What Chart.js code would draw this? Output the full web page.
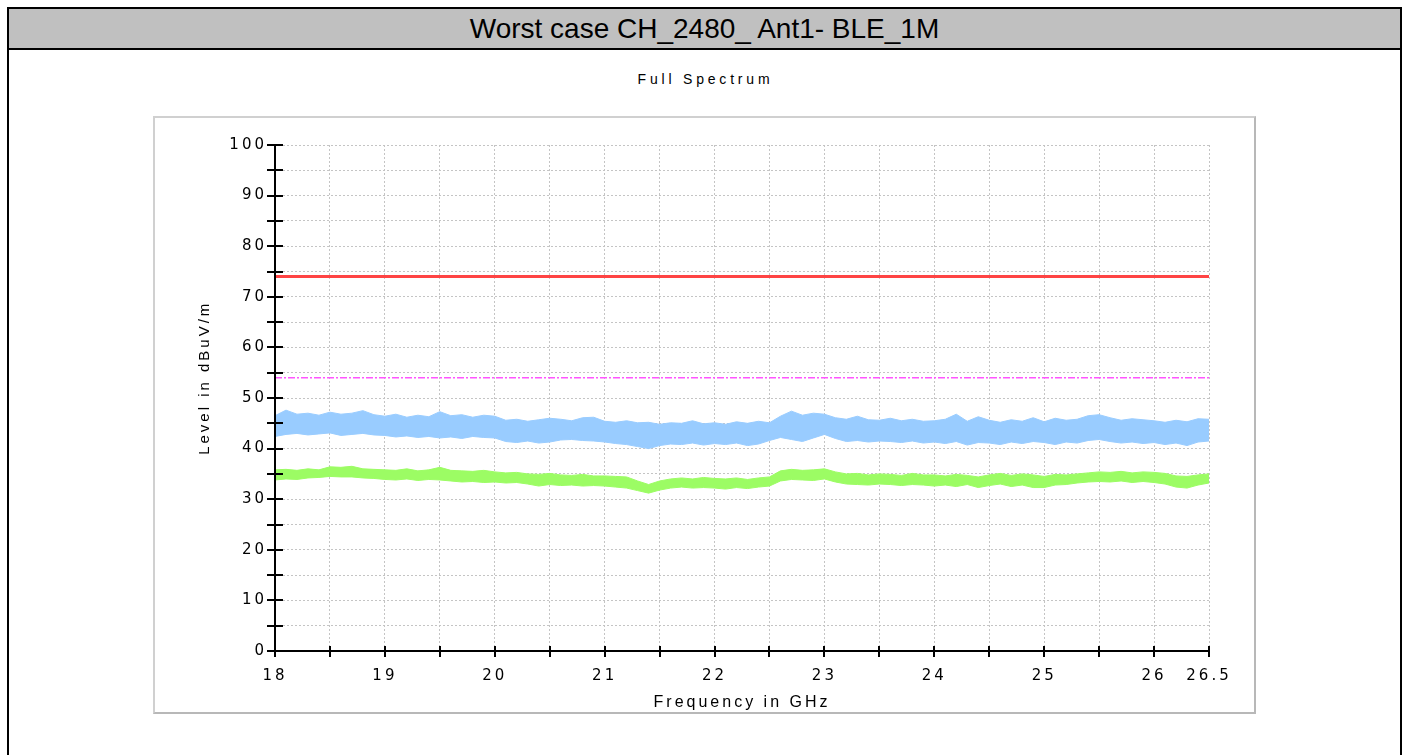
<!DOCTYPE html>
<html>
<head>
<meta charset="utf-8">
<script src="https://cdn.jsdelivr.net/npm/chart.js@4/dist/chart.umd.min.js"></script>
<style>
  html, body { margin: 0; padding: 0; background: #fff; }
  body { width: 1407px; height: 755px; overflow: hidden; position: relative; font-family: "Liberation Sans", Arial, sans-serif; }
  #frame { position: absolute; left: 7px; top: 7px; width: 1391px; height: 800px; border: 2px solid #000; }
  #head { height: 39px; background: #c0c0c0; border-bottom: 2px solid #000; text-align: center;
          font-size: 28px; line-height: 39px; color: #000; }
  #sub { position: absolute; left: 2px; width: 1407px; top: 71px; text-align: center; font-size: 14px; letter-spacing: 3.8px; color: #000; }
  #box { position: absolute; left: 153px; top: 116px; width: 1099px; height: 594px;
         border: 2px solid #b8b8b8; border-top-color: #d0d0d0; border-left-color: #d0d0d0; background: #fff; }
  #wrap { position: absolute; left: 155px; top: 118px; width: 1099px; height: 594px; }
</style>
</head>
<body>
<div id="frame"><div id="head">Worst case CH_2480_ Ant1- BLE_1M</div></div>
<div id="sub">Full Spectrum</div>
<div id="box"></div>
<div id="wrap"><canvas id="c" width="1099" height="594"></canvas></div>
<script>
// frequency points (GHz)
const FREQ_GHZ = [
  18.0, 18.1, 18.2, 18.3, 18.4, 18.5, 18.6, 18.7, 18.8, 18.9,
  19.0, 19.1, 19.2, 19.3, 19.4, 19.5, 19.6, 19.7, 19.8, 19.9,
  20.0, 20.1, 20.2, 20.3, 20.4, 20.5, 20.6, 20.7, 20.8, 20.9,
  21.0, 21.1, 21.2, 21.3, 21.4, 21.5, 21.6, 21.7, 21.8, 21.9,
  22.0, 22.1, 22.2, 22.3, 22.4, 22.5, 22.6, 22.7, 22.8, 22.9,
  23.0, 23.1, 23.2, 23.3, 23.4, 23.5, 23.6, 23.7, 23.8, 23.9,
  24.0, 24.1, 24.2, 24.3, 24.4, 24.5, 24.6, 24.7, 24.8, 24.9,
  25.0, 25.1, 25.2, 25.3, 25.4, 25.5, 25.6, 25.7, 25.8, 25.9,
  26.0, 26.1, 26.2, 26.3, 26.4, 26.5
];

// peak trace (blue) envelope, dBuV/m
const PEAK_HIGH = [
  46.5, 47.6, 46.8, 47.0, 46.6, 47.2, 46.8, 47.0, 47.5, 46.7,
  46.4, 46.8, 46.2, 46.6, 46.3, 47.3, 46.5, 46.7, 46.2, 46.6,
  46.4, 45.6, 45.8, 45.4, 45.7, 46.0, 45.8, 45.5, 46.1, 46.2,
  45.4, 45.2, 45.5, 45.1, 45.2, 44.8, 45.1, 45.0, 45.5, 44.9,
  45.1, 44.8, 45.3, 45.0, 45.4, 45.1, 46.4, 47.4, 46.6, 47.0,
  46.8, 46.1, 45.8, 46.4, 45.7, 45.6, 46.0, 45.5, 45.8, 45.4,
  45.5, 45.8, 46.8, 45.4, 46.3, 45.6, 45.2, 45.7, 45.4, 46.1,
  45.3, 46.0, 45.6, 45.8, 46.5, 46.7, 46.1, 45.6, 45.9, 45.7,
  45.5, 45.2, 45.6, 45.3, 45.9, 45.8
];
const PEAK_LOW = [
  42.4, 42.8, 43.0, 42.7, 42.9, 43.1, 42.6, 42.8, 43.0, 42.7,
  42.6, 42.3, 42.5, 42.2, 42.4, 42.1, 42.3, 42.0, 42.4, 42.2,
  42.1, 41.4, 41.2, 41.5, 41.1, 41.3, 41.7, 41.8, 41.6, 41.5,
  41.3, 41.0, 40.8, 40.4, 40.0, 40.6, 40.9, 40.8, 41.1, 40.7,
  41.0, 40.8, 41.1, 40.6, 40.9, 41.6, 42.2, 41.8, 41.4, 42.1,
  42.8, 42.0, 41.4, 41.6, 41.3, 41.5, 41.4, 41.2, 41.5, 41.1,
  41.3, 41.0, 41.4, 40.7, 41.2, 41.1, 40.8, 41.3, 41.0, 41.4,
  41.2, 40.8, 41.3, 41.1, 41.6, 41.8, 41.4, 41.1, 41.3, 41.0,
  41.2, 40.8, 41.1, 40.6, 41.3, 41.5
];

// average trace (green) envelope, dBuV/m
const AVG_HIGH = [
  35.8, 35.9, 35.7, 36.0, 35.8, 36.4, 36.3, 36.5, 36.0, 35.9,
  35.8, 35.7, 36.0, 35.6, 35.8, 36.3, 35.7, 35.6, 35.5, 35.7,
  35.4, 35.2, 35.3, 35.0, 34.9, 35.1, 34.8, 34.7, 34.9, 34.6,
  34.6, 34.5, 34.4, 33.6, 32.9, 33.6, 34.0, 34.2, 34.0, 34.3,
  34.1, 34.0, 34.2, 33.9, 34.2, 34.4, 35.6, 35.9, 35.7, 35.8,
  36.0, 35.4, 35.0, 35.1, 34.8, 35.0, 34.9, 34.7, 35.1, 34.8,
  34.8, 34.6, 34.9, 34.7, 34.4, 34.8, 35.1, 34.7, 35.0, 34.8,
  34.5, 34.9, 34.8, 35.0, 35.2, 35.4, 35.3, 35.5, 35.2, 35.4,
  35.3, 35.1, 34.6, 34.5, 34.8, 35.0
];
const AVG_LOW = [
  33.8, 34.0, 33.9, 34.2, 34.3, 34.5, 34.4, 34.4, 34.2, 34.1,
  33.9, 33.8, 34.0, 33.7, 33.9, 33.8, 33.6, 33.4, 33.5, 33.3,
  33.4, 33.2, 33.3, 33.0, 32.6, 32.9, 32.7, 32.8, 32.6, 32.7,
  32.6, 32.4, 32.2, 31.7, 31.2, 31.8, 32.2, 32.4, 32.2, 32.3,
  32.2, 32.0, 32.3, 32.1, 32.4, 32.6, 33.6, 33.9, 33.8, 33.7,
  34.0, 33.4, 33.0, 32.9, 32.8, 33.0, 32.9, 32.7, 32.9, 32.8,
  32.6, 32.8, 32.5, 32.9, 32.3, 32.7, 33.0, 32.5, 32.8, 32.3,
  32.3, 32.8, 32.9, 33.2, 33.4, 33.5, 33.4, 33.6, 33.3, 33.5,
  33.3, 33.0, 32.4, 32.2, 32.8, 33.2
];

// limit lines
const LIMIT_FREQ = [18, 26.5];
const PEAK_LIMIT = [74, 74];
const AVG_LIMIT = [54, 54];

const Y_TITLE = "Level in dBuV/m";
const BLUE = "#99ccff";
const GREEN = "#9cfc64";

function pts(xs, ys) { return xs.map((x, i) => ({ x: x, y: ys[i] })); }

const axisMarks = {
  id: "axisMarks",
  beforeDraw(chart) { chart.ctx.letterSpacing = "3px"; },
  afterDatasetsDraw(chart) {
    const { ctx, chartArea: a, scales: { x, y } } = chart;
    ctx.save();
    ctx.strokeStyle = "#000";
    ctx.lineWidth = 2;
    ctx.beginPath();
    ctx.moveTo(a.left, a.top - 1);
    ctx.lineTo(a.left, a.bottom);
    ctx.lineTo(a.right, a.bottom);
    y.ticks.forEach((t) => {
      const py = Math.round(y.getPixelForValue(t.value));
      ctx.moveTo(a.left - 8, py);
      ctx.lineTo(a.left + 8, py);
    });
    x.ticks.forEach((t) => {
      const px = Math.round(x.getPixelForValue(t.value));
      ctx.moveTo(px, a.bottom - 5);
      ctx.lineTo(px, a.bottom + 6);
    });
    ctx.stroke();
    // y axis title
    ctx.translate(50, y.getPixelForValue(54));
    ctx.rotate(-Math.PI / 2);
    ctx.letterSpacing = "3px";
    ctx.font = "15px 'Liberation Sans'";
    ctx.fillStyle = "#000";
    ctx.textAlign = "center";
    ctx.textBaseline = "middle";
    ctx.fillText(Y_TITLE, 0, 0);
    ctx.restore();
  }
};

const line = (label, data, color, extra) => Object.assign({
  label: label, data: data, borderColor: color, backgroundColor: color,
  borderWidth: 1, pointRadius: 0, tension: 0, fill: false
}, extra || {});

const tickFont = { family: "DejaVu Sans", size: 15 };

new Chart(document.getElementById("c"), {
  type: "line",
  data: {
    datasets: [
      line("Peak low", pts(FREQ_GHZ, PEAK_LOW), BLUE),
      line("Peak high", pts(FREQ_GHZ, PEAK_HIGH), BLUE, { fill: "-1" }),
      line("Avg low", pts(FREQ_GHZ, AVG_LOW), GREEN),
      line("Avg high", pts(FREQ_GHZ, AVG_HIGH), GREEN, { fill: "-1" }),
      line("AV limit", pts(LIMIT_FREQ, AVG_LIMIT), "#ff55ff", { borderWidth: 1.5, borderDash: [7, 2, 2, 2] }),
      line("PK limit", pts(LIMIT_FREQ, PEAK_LIMIT), "#ff4444", { borderWidth: 3 })
    ]
  },
  options: {
    responsive: false,
    animation: false,
    layout: { padding: { top: 27, right: 45, left: 0, bottom: 0 } },
    plugins: { legend: { display: false }, tooltip: { enabled: false } },
    scales: {
      x: {
        type: "linear", min: 18, max: 26.5,
        afterFit: (s) => { s.height = 61; },
        grid: { color: "#c4c4c4", lineWidth: 1, drawTicks: false },
        border: { display: false, dash: [2, 2] },
        ticks: {
          stepSize: 0.5, autoSkip: false, maxRotation: 0, padding: 16, color: "#000",
          font: tickFont,
          callback: (v) => (Number.isInteger(v) || v === 26.5) ? String(v) : ""
        },
        title: { display: true, text: "Frequency in GHz", color: "#000",
                 font: { family: "Liberation Sans", size: 16 }, padding: { top: 0, bottom: 0 } }
      },
      y: {
        type: "linear", min: 0, max: 100,
        afterFit: (s) => { s.width = 120; },
        grid: { color: "#c4c4c4", lineWidth: 1, drawTicks: false },
        border: { display: false, dash: [2, 2] },
        ticks: {
          stepSize: 5, autoSkip: false, padding: 8, color: "#000",
          font: tickFont,
          callback: (v) => v % 10 === 0 ? String(v) : ""
        }
      }
    }
  },
  plugins: [axisMarks]
});
</script>
</body>
</html>
